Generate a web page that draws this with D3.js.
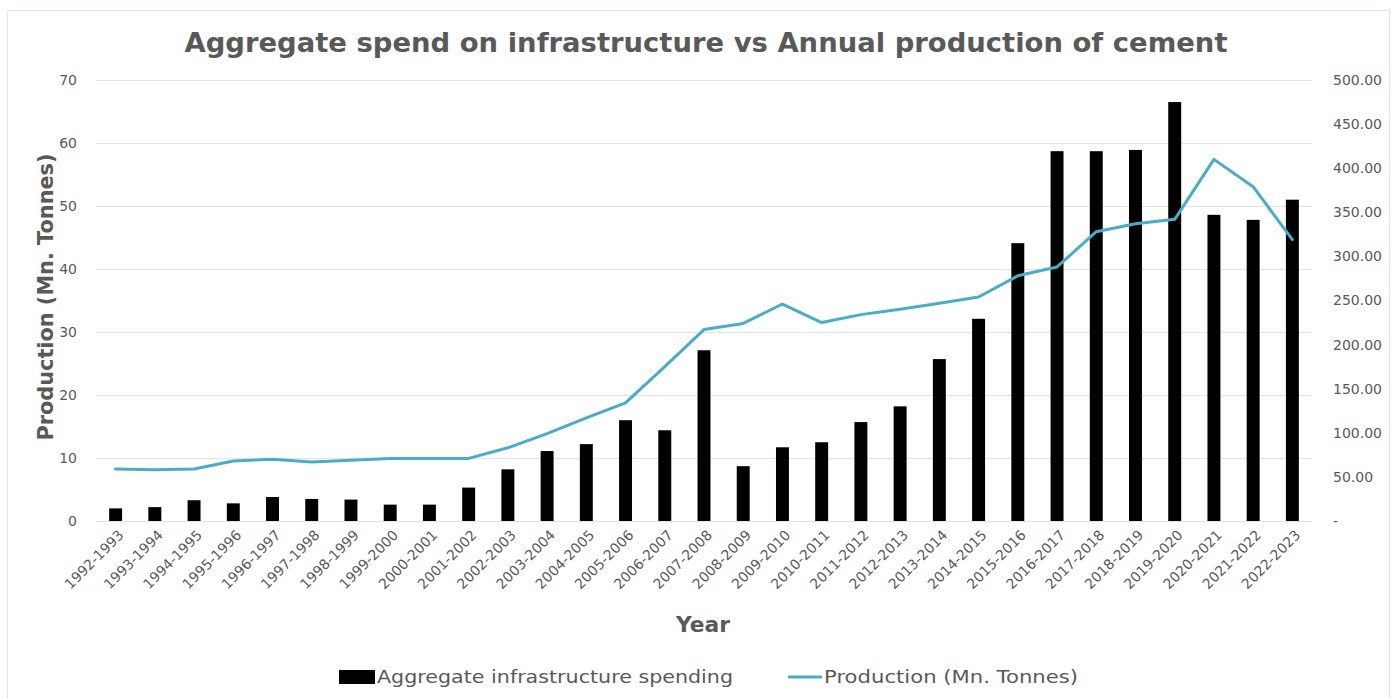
<!DOCTYPE html>
<html>
<head>
<meta charset="utf-8">
<script src="https://cdn.jsdelivr.net/npm/d3@7"></script>
<style>
  html, body { margin: 0; padding: 0; background: #ffffff; }
  svg { display: block; font-family: "DejaVu Sans", Verdana, sans-serif; }
</style>
</head>
<body>
<svg id="chart" width="1394" height="698"></svg>
<script>
// Fiscal years on the category axis
const years = [
  "1992-1993","1993-1994","1994-1995","1995-1996","1996-1997","1997-1998",
  "1998-1999","1999-2000","2000-2001","2001-2002","2002-2003","2003-2004",
  "2004-2005","2005-2006","2006-2007","2007-2008","2008-2009","2009-2010",
  "2010-2011","2011-2012","2012-2013","2013-2014","2014-2015","2015-2016",
  "2016-2017","2017-2018","2018-2019","2019-2020","2020-2021","2021-2022",
  "2022-2023"
];

// Aggregate infrastructure spending (left axis)
const spending = [
  2.0, 2.2, 3.3, 2.8, 3.8, 3.5, 3.4, 2.6, 2.6, 5.3, 8.2, 11.1,
  12.2, 16.0, 14.4, 27.1, 8.7, 11.7, 12.5, 15.7, 18.2, 25.7,
  32.1, 44.1, 58.7, 58.7, 58.9, 66.5, 48.6, 47.8, 51.0
];

// Cement production, Mn. Tonnes (right axis)
const production = [
  59, 58, 59, 68, 70, 67, 69, 71, 71, 71, 83, 99,
  117, 134, 175, 217, 224, 246, 225, 234, 240, 247,
  254, 278, 288, 328, 337, 342, 410, 379, 319
];

const leftTicks = [0, 10, 20, 30, 40, 50, 60, 70];
const rightTicks = [0, 50, 100, 150, 200, 250, 300, 350, 400, 450, 500];

const titleText = "Aggregate spend on infrastructure vs Annual production of cement";
const leftAxisTitle = "Production (Mn. Tonnes)";
const xAxisTitle = "Year";
const seriesNames = ["Aggregate infrastructure spending", "Production (Mn. Tonnes)"];

const textColor = "#595959";
const gridColor = "#e3e3e3";
const lineColor = "#4bacc6";

const svg = d3.select("#chart");

// Outer chart frame
svg.append("rect")
  .attr("x", 7.5).attr("y", 10.5)
  .attr("width", 1382).attr("height", 700)
  .attr("fill", "#ffffff")
  .attr("stroke", "#dce6f0").attr("stroke-width", 1);

const plot = { left: 96, right: 1312, top: 80, bottom: 521 };

const x = d3.scaleBand()
  .domain(years)
  .range([plot.left, plot.right])
  .paddingInner(0.67)
  .paddingOuter(0.335);

const yL = d3.scaleLinear().domain([0, 70]).range([plot.bottom, plot.top]);
const yR = d3.scaleLinear().domain([0, 500]).range([plot.bottom, plot.top]);

// Horizontal gridlines on the left-axis ticks
svg.append("g")
  .attr("transform", `translate(${plot.left},0)`)
  .call(d3.axisLeft(yL).tickValues(leftTicks).tickSize(-(plot.right - plot.left)).tickFormat(""))
  .call(g => g.select(".domain").remove())
  .call(g => g.selectAll(".tick line").attr("stroke", gridColor).attr("stroke-width", 1));

// Left axis labels
svg.append("g")
  .attr("transform", `translate(${plot.left - 16},0)`)
  .call(d3.axisLeft(yL).tickValues(leftTicks).tickSize(0).tickFormat(d3.format("d")))
  .call(g => g.select(".domain").remove())
  .call(g => g.selectAll("text")
    .attr("fill", textColor)
    .style("font-size", "14px")
    .style("font-family", "'DejaVu Sans', Verdana, sans-serif"));

// Right axis labels (accounting style, dash for zero)
svg.append("g")
  .attr("transform", `translate(${plot.right + 21},0)`)
  .call(d3.axisRight(yR).tickValues(rightTicks).tickSize(0)
    .tickFormat(d => d === 0 ? "-" : d3.format(".2f")(d)))
  .call(g => g.select(".domain").remove())
  .call(g => g.selectAll("text")
    .attr("x", 0)
    .attr("fill", textColor)
    .style("font-size", "14px")
    .style("font-family", "'DejaVu Sans', Verdana, sans-serif"));

// Bars
svg.append("g")
  .selectAll("rect")
  .data(years)
  .join("rect")
  .attr("x", d => x(d))
  .attr("width", x.bandwidth())
  .attr("y", (d, i) => yL(spending[i]))
  .attr("height", (d, i) => yL(0) - yL(spending[i]))
  .attr("fill", "#000000");

// Production line
const line = d3.line()
  .x((d, i) => x(years[i]) + x.bandwidth() / 2)
  .y(d => yR(d));

svg.append("path")
  .datum(production)
  .attr("d", line)
  .attr("fill", "none")
  .attr("stroke", lineColor)
  .attr("stroke-width", 3)
  .attr("stroke-linejoin", "round")
  .attr("stroke-linecap", "round");

// Category labels, rotated
svg.append("g")
  .attr("transform", `translate(0,${plot.bottom + 10})`)
  .call(d3.axisBottom(x).tickSize(0).tickPadding(0))
  .call(g => g.select(".domain").remove())
  .call(g => g.selectAll("text")
    .attr("fill", textColor)
    .style("font-size", "14px")
    .style("font-family", "'DejaVu Sans', Verdana, sans-serif")
    .attr("text-anchor", "end")
    .attr("dx", "0.2em")
    .attr("dy", "0.7em")
    .attr("transform", "rotate(-45)"));

// Title
svg.append("text")
  .attr("x", 706).attr("y", 52)
  .attr("text-anchor", "middle")
  .attr("fill", textColor)
  .attr("textLength", 1043)
  .attr("lengthAdjust", "spacingAndGlyphs")
  .style("font-size", "27px")
  .style("font-weight", "bold")
  .text(titleText);

// Left axis title
svg.append("text")
  .attr("transform", `translate(53,297) rotate(-90)`)
  .attr("text-anchor", "middle")
  .attr("fill", textColor)
  .attr("textLength", 287)
  .attr("lengthAdjust", "spacingAndGlyphs")
  .style("font-size", "21px")
  .style("font-weight", "bold")
  .text(leftAxisTitle);

// X axis title
svg.append("text")
  .attr("x", 703).attr("y", 632)
  .attr("text-anchor", "middle")
  .attr("fill", textColor)
  .attr("textLength", 54)
  .attr("lengthAdjust", "spacingAndGlyphs")
  .style("font-size", "21px")
  .style("font-weight", "bold")
  .text(xAxisTitle);

// Legend
const legend = svg.append("g");
legend.append("rect")
  .attr("x", 339).attr("y", 670).attr("width", 36).attr("height", 14)
  .attr("fill", "#000000");
legend.append("text")
  .attr("x", 377).attr("y", 683)
  .attr("fill", textColor)
  .attr("textLength", 356)
  .attr("lengthAdjust", "spacingAndGlyphs")
  .style("font-size", "18px")
  .text(seriesNames[0]);
legend.append("line")
  .attr("x1", 788).attr("x2", 822).attr("y1", 677).attr("y2", 677)
  .attr("stroke", lineColor).attr("stroke-width", 3);
legend.append("text")
  .attr("x", 824).attr("y", 683)
  .attr("fill", textColor)
  .attr("textLength", 254)
  .attr("lengthAdjust", "spacingAndGlyphs")
  .style("font-size", "18px")
  .text(seriesNames[1]);
</script>
</body>
</html>
